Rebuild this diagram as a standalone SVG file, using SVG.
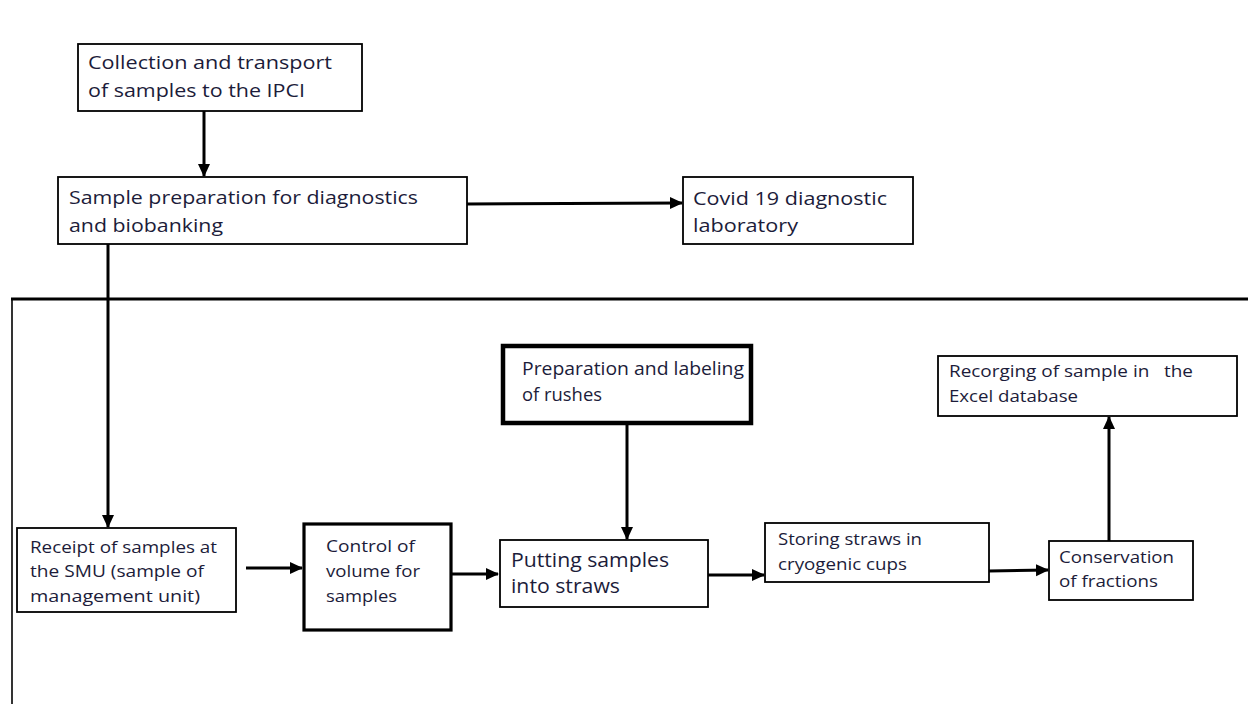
<svg xmlns="http://www.w3.org/2000/svg" width="1248" height="704" viewBox="0 0 1248 704">
<defs>
<style>
.box{fill:#fff;stroke:#000;stroke-width:1.8}
.thick{stroke-width:4.5}
.mid{stroke-width:3.2}
.t{font-family:"Open Sans","Liberation Sans",sans-serif;fill:#1c1c3a;white-space:pre}
.a{fill:none;stroke:#000;stroke-width:3;marker-end:url(#ah)}
.l{fill:none;stroke:#000}
</style>
<marker id="ah" markerUnits="userSpaceOnUse" markerWidth="13" markerHeight="13" viewBox="0 0 13 13" refX="12" refY="6.5" orient="auto">
<path d="M0,0.5 L13,6.5 L0,12.5 Z" fill="#000"/>
</marker>
</defs>
<rect width="1248" height="704" fill="#fff"/>

<g id="frame">
<line class="l" x1="11" y1="299" x2="1248" y2="299" stroke-width="3"/>
<line class="l" x1="12" y1="299" x2="12" y2="704" stroke-width="1.6"/>
</g>

<g id="connectors">
<line class="a" x1="204" y1="111" x2="204" y2="176"/>
<line class="a" x1="467" y1="204" x2="682" y2="203"/>
<line class="a" x1="108" y1="244" x2="108" y2="527"/>
<line class="a" x1="246" y1="568" x2="302" y2="568"/>
<line class="a" x1="452" y1="574" x2="498" y2="574"/>
<line class="a" x1="627" y1="424" x2="627" y2="539"/>
<line class="a" x1="708" y1="575" x2="764" y2="575"/>
<line class="a" x1="989" y1="571" x2="1048" y2="570"/>
<line class="a" x1="1109" y1="541" x2="1109" y2="417"/>
</g>

<g id="n1">
<rect class="box" x="78" y="44" width="284" height="67"/>
<text class="t" font-size="19" x="88" y="69" textLength="244" lengthAdjust="spacingAndGlyphs">Collection and transport</text>
<text class="t" font-size="19" x="88" y="97" textLength="217" lengthAdjust="spacingAndGlyphs">of samples to the IPCI</text>
</g>

<g id="n2">
<rect class="box" x="58" y="177" width="409" height="67"/>
<text class="t" font-size="19" x="69" y="204" textLength="349" lengthAdjust="spacingAndGlyphs">Sample preparation for diagnostics</text>
<text class="t" font-size="19" x="69" y="232" textLength="154" lengthAdjust="spacingAndGlyphs">and biobanking</text>
</g>

<g id="n3">
<rect class="box" x="683" y="177" width="230" height="67"/>
<text class="t" font-size="19" x="693" y="205" textLength="194" lengthAdjust="spacingAndGlyphs">Covid 19 diagnostic</text>
<text class="t" font-size="19" x="693" y="232" textLength="105" lengthAdjust="spacingAndGlyphs">laboratory</text>
</g>

<g id="n4">
<rect class="box thick" x="503" y="346" width="248" height="77"/>
<text class="t" font-size="18" x="522" y="375" textLength="222" lengthAdjust="spacingAndGlyphs">Preparation and labeling</text>
<text class="t" font-size="18" x="522" y="401" textLength="80" lengthAdjust="spacingAndGlyphs">of rushes</text>
</g>

<g id="n5">
<rect class="box" x="938" y="356" width="299" height="60"/>
<text class="t" font-size="16" x="949" y="377" textLength="244" lengthAdjust="spacingAndGlyphs">Recorging of sample in   the</text>
<text class="t" font-size="16" x="949" y="402" textLength="129" lengthAdjust="spacingAndGlyphs">Excel database</text>
</g>

<g id="n6">
<rect class="box" x="17" y="528" width="219" height="84"/>
<text class="t" font-size="16" x="30" y="553" textLength="187" lengthAdjust="spacingAndGlyphs">Receipt of samples at</text>
<text class="t" font-size="16" x="30" y="577" textLength="174" lengthAdjust="spacingAndGlyphs">the SMU (sample of</text>
<text class="t" font-size="16" x="30" y="602" textLength="170" lengthAdjust="spacingAndGlyphs">management unit)</text>
</g>

<g id="n7">
<rect class="box mid" x="304" y="524" width="147" height="106"/>
<text class="t" font-size="16" x="326" y="552" textLength="89" lengthAdjust="spacingAndGlyphs">Control of</text>
<text class="t" font-size="16" x="326" y="577" textLength="94" lengthAdjust="spacingAndGlyphs">volume for</text>
<text class="t" font-size="16" x="326" y="602" textLength="71" lengthAdjust="spacingAndGlyphs">samples</text>
</g>

<g id="n8">
<rect class="box" x="500" y="540" width="208" height="67"/>
<text class="t" font-size="20" x="511" y="567" textLength="158" lengthAdjust="spacingAndGlyphs">Putting samples</text>
<text class="t" font-size="20" x="511" y="593" textLength="109" lengthAdjust="spacingAndGlyphs">into straws</text>
</g>

<g id="n9">
<rect class="box" x="765" y="523" width="224" height="59"/>
<text class="t" font-size="16" x="778" y="545" textLength="144" lengthAdjust="spacingAndGlyphs">Storing straws in</text>
<text class="t" font-size="16" x="778" y="570" textLength="129" lengthAdjust="spacingAndGlyphs">cryogenic cups</text>
</g>

<g id="n10">
<rect class="box" x="1049" y="541" width="144" height="59"/>
<text class="t" font-size="16" x="1059" y="563" textLength="115" lengthAdjust="spacingAndGlyphs">Conservation</text>
<text class="t" font-size="16" x="1059" y="587" textLength="99" lengthAdjust="spacingAndGlyphs">of fractions</text>
</g>
</svg>
